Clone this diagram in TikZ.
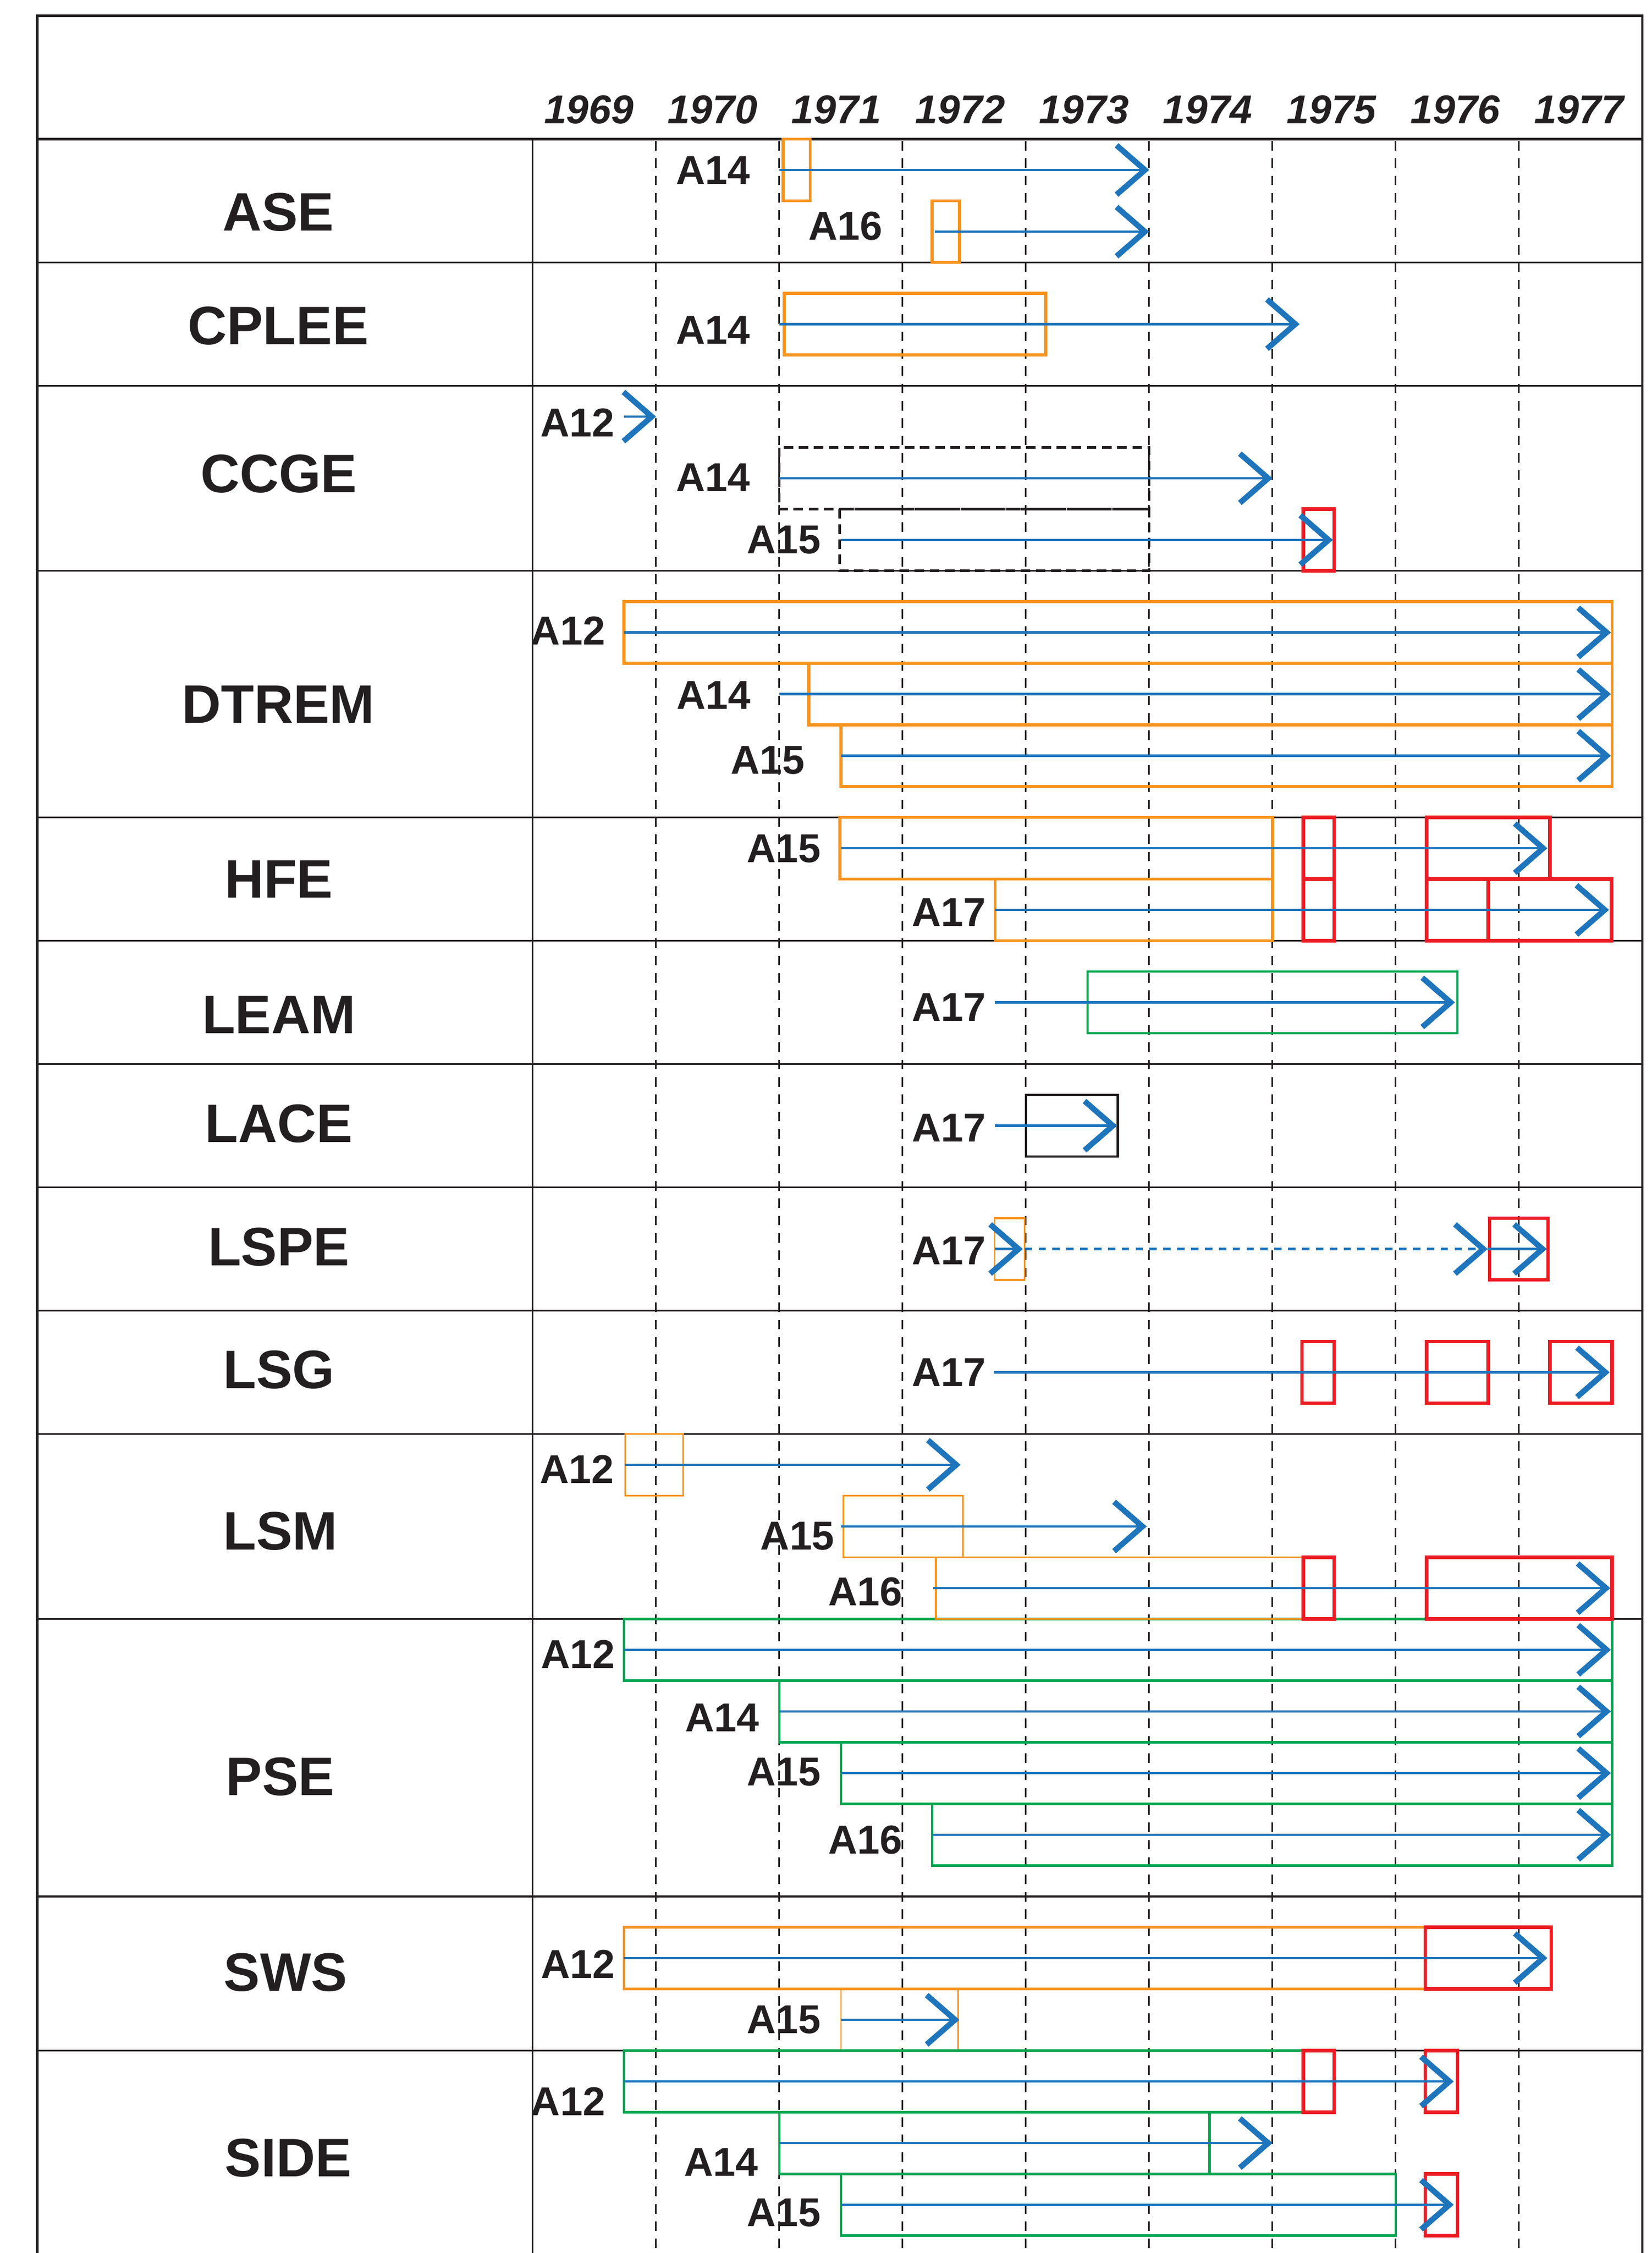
\documentclass[tikz,border=0pt]{standalone}
\usepackage{fontspec}
\setmainfont{Liberation Sans}
\usepackage{tikz}
\usetikzlibrary{arrows.meta}
\definecolor{ink}{RGB}{35,31,32}
\definecolor{runblue}{RGB}{30,117,188}
\definecolor{boxorange}{RGB}{247,148,30}
\definecolor{boxred}{RGB}{237,28,36}
\definecolor{boxgreen}{RGB}{0,166,81}

\begin{document}
\begin{tikzpicture}[x=2cm,y=-1cm,
	edgeline/.style={draw=ink,line width=1.2pt},
	rowline/.style={draw=ink,line width=0.75pt},
	yearline/.style={draw=ink,line width=0.75pt,dash pattern=on 4.4pt off 3.6pt},
	run/.style={draw=runblue,line width=1.15pt,-{Straight Barb[sharp,length=4.6mm,width=8mm,line width=2.6pt]}},
	orangebox/.style={draw=boxorange,line width=1.4pt},
	redbox/.style={draw=boxred,line width=1.6pt},
	greenbox/.style={draw=boxgreen,line width=1.1pt},
	blackbox/.style={draw=ink,line width=1.1pt},
	ccgebox/.style={draw=ink,line width=1.1pt,dash pattern=on 4.4pt off 2.6pt},
	rowlab/.style={text=ink,inner sep=0pt,font=\fontsize{25}{30}\selectfont\bfseries},
	explab/.style={text=ink,anchor=east,inner sep=0pt,font=\fontsize{18.6}{22}\selectfont\bfseries},
	yearlab/.style={text=ink,inner sep=0pt,font=\fontsize{18.6}{22}\selectfont\bfseries\itshape}]
						\useasboundingbox (-4.3217,-2.2565) rectangle (9.0783,34.283);
						\draw[edgeline] (-4.02,34.3) |- (9,-2) -- (9,34.3);
						\draw[edgeline,line width=1.3pt] (-4.02,0) -- (9,0);
						\draw[rowline] (0,0) -- (0,34.3);
						\foreach \s in {2,4,7,11,13,15,17,19,21,24,28.5,31}
							\draw[rowline] (-4.02,\s) -- (9,\s);
						\foreach \u in {1,...,8}
							\draw[yearline] (\u,0.03) -- (\u,34.3);
						\foreach \yr [count=\k from 0] in {1969,...,1977}
							\node[yearlab] (y\yr) at (\k*1.004+0.455,-0.48) {\yr};
						\node[rowlab] (ase) at (-2.065,1.185) {ASE};
						\node[rowlab] (cplee) at (-2.065,3.03) {CPLEE};
						\node[rowlab] (ccge) at (-2.06,5.43) {CCGE};
						\node[rowlab] (dtrem) at (-2.065,9.17) {DTREM};
						\node[rowlab] (hfe) at (-2.06,12.0) {HFE};
						\node[rowlab] (leam) at (-2.06,14.2) {LEAM};
						\node[rowlab] (lace) at (-2.06,15.97) {LACE};
						\node[rowlab] (lspe) at (-2.06,17.97) {LSPE};
						\node[rowlab] (lsg) at (-2.06,19.96) {LSG};
						\node[rowlab] (lsm) at (-2.048,22.58) {LSM};
						\node[rowlab] (pse) at (-2.048,26.56) {PSE};
						\node[rowlab] (sws) at (-2.004,29.73) {SWS};
						\node[rowlab] (side) at (-1.983,32.74) {SIDE};
						\draw[orangebox] (2.03,0) rectangle (2.25,1);
						\draw[orangebox] (3.24,1) rectangle (3.46,2);
						\draw[run] (2,0.5) -- (5,0.5);
						\draw[run] (3.26,1.5) -- (5,1.5);
						\node[explab] (ase14) at (1.765,0.507) {A14};
						\node[explab] (ase16) at (2.84,1.41) {A16};
						\draw[orangebox] (2.04,2.5) rectangle (4.16,3.5);
						\draw[run] (2,3) -- (6.22,3);
						\node[explab] (cplee14) at (1.765,3.1) {A14};
						\draw[ccgebox] (2,5) rectangle (5,6);
						\draw[ccgebox] (2.49,6) rectangle (5,7);
						\draw[redbox] (6.25,6) rectangle (6.5,7);
						\draw[run] (0.74,4.5) -- (1,4.5);
						\draw[run] (2,5.5) -- (6,5.5);
						\draw[run] (2.5,6.5) -- (6.49,6.5);
						\node[explab] (ccge12) at (0.665,4.6) {A12};
						\node[explab] (ccge14) at (1.765,5.49) {A14};
						\node[explab] (ccge15) at (2.34,6.5) {A15};
						\draw[orangebox] (0.74,7.5) rectangle (8.755,8.5);
						\draw[orangebox] (2.24,8.5) rectangle (8.755,9.5);
						\draw[orangebox] (2.5,9.5) rectangle (8.755,10.5);
						\draw[run] (0.74,8) -- (8.745,8);
						\draw[run] (2,9) -- (8.745,9);
						\draw[run] (2.5,10) -- (8.745,10);
						\node[explab] (dtrem12) at (0.59,7.97) {A12};
						\node[explab] (dtrem14) at (1.77,9.02) {A14};
						\node[explab] (dtrem15) at (2.21,10.07) {A15};
						\draw[orangebox] (2.49,11) rectangle (6,12);
						\draw[orangebox] (3.75,12) rectangle (6,13);
						\draw[redbox] (6.25,11) rectangle (6.5,12);
						\draw[redbox] (6.25,12) rectangle (6.5,13);
						\draw[redbox] (7.25,11) rectangle (8.25,12);
						\draw[redbox] (7.25,12) rectangle (7.75,13);
						\draw[redbox] (7.75,12) rectangle (8.75,13);
						\draw[run] (2.5,11.5) -- (8.23,11.5);
						\draw[run] (3.75,12.5) -- (8.73,12.5);
						\node[explab] (hfe15) at (2.34,11.51) {A15};
						\node[explab] (hfe17) at (3.68,12.54) {A17};
						\draw[greenbox] (4.5,13.5) rectangle (7.5,14.5);
						\draw[run] (3.75,14) -- (7.48,14);
						\node[explab] (leam17) at (3.68,14.08) {A17};
						\draw[blackbox] (4,15.5) rectangle (4.745,16.5);
						\draw[run] (3.75,16) -- (4.74,16);
						\node[explab] (lace17) at (3.68,16.04) {A17};
						\draw[orangebox,line width=0.9pt] (3.745,17.5) rectangle (3.99,18.5);
						\draw[redbox] (7.76,17.5) rectangle (8.235,18.5);
						\draw[run] (3.75,18) -- (3.975,18);
						\draw[run,dash pattern=on 3.4pt off 3pt] (3.99,18) -- (7.745,18);
						\draw[run] (7.745,18) -- (8.225,18);
						\node[explab] (lspe17) at (3.68,18.03) {A17};
						\draw[redbox] (6.24,19.5) rectangle (6.5,20.5);
						\draw[redbox] (7.25,19.5) rectangle (7.75,20.5);
						\draw[redbox] (8.25,19.5) rectangle (8.755,20.5);
						\draw[run] (3.74,20) -- (8.735,20);
						\node[explab] (lsg17) at (3.68,20.0) {A17};
						\draw[greenbox] (0.74,24) rectangle (8.755,25);
						\draw[greenbox] (2,25) rectangle (8.755,26);
						\draw[greenbox] (2.5,26) rectangle (8.755,27);
						\draw[greenbox] (3.24,27) rectangle (8.755,28);
						\draw[run] (0.74,24.5) -- (8.745,24.5);
						\draw[run] (2,25.5) -- (8.745,25.5);
						\draw[run] (2.5,26.5) -- (8.745,26.5);
						\draw[run] (3.24,27.5) -- (8.745,27.5);
						\node[explab] (pse12) at (0.67,24.57) {A12};
						\node[explab] (pse14) at (1.84,25.6) {A14};
						\node[explab] (pse15) at (2.34,26.48) {A15};
						\node[explab] (pse16) at (3.0,27.58) {A16};
						\draw[orangebox,line width=0.9pt] (0.75,21) rectangle (1.22,22);
						\draw[orangebox,line width=0.9pt] (2.52,22) rectangle (3.49,23);
						\draw[orangebox,line width=0.9pt] (3.27,23) rectangle (6.25,24);
						\draw[redbox] (6.25,23) rectangle (6.5,24);
						\draw[redbox] (7.25,23) rectangle (8.755,24);
						\draw[run] (0.75,21.5) -- (3.47,21.5);
						\draw[run] (2.5,22.5) -- (4.98,22.5);
						\draw[run] (3.25,23.5) -- (8.74,23.5);
						\node[explab] (lsm12) at (0.66,21.57) {A12};
						\node[explab] (lsm15) at (2.45,22.66) {A15};
						\node[explab] (lsm16) at (3.0,23.56) {A16};
						\draw[orangebox,line width=1.1pt] (0.74,29) rectangle (7.24,30);
						\draw[redbox] (7.24,29) rectangle (8.26,30);
						\draw[orangebox,line width=0.7pt] (2.5,30) rectangle (3.45,31);
						\draw[run] (0.74,29.5) -- (8.23,29.5);
						\draw[run] (2.5,30.5) -- (3.46,30.5);
						\node[explab] (sws12) at (0.67,29.6) {A12};
						\node[explab] (sws15) at (2.34,30.5) {A15};
						\draw[greenbox] (0.74,31) rectangle (6.25,32);
						\draw[greenbox] (2,32) rectangle (5.49,33);
						\draw[greenbox] (2.5,33) rectangle (7,34);
						\draw[redbox] (6.25,31) rectangle (6.5,32);
						\draw[redbox] (7.24,31) rectangle (7.5,32);
						\draw[redbox] (7.24,33) rectangle (7.5,34);
						\draw[run] (0.74,31.5) -- (7.47,31.5);
						\draw[run] (2,32.5) -- (6,32.5);
						\draw[run] (2.5,33.5) -- (7.47,33.5);
						\node[explab] (side12) at (0.59,31.82) {A12};
						\node[explab] (side14) at (1.83,32.81) {A14};
						\node[explab] (side15) at (2.34,33.63) {A15};
					\end{tikzpicture}
\end{document}
